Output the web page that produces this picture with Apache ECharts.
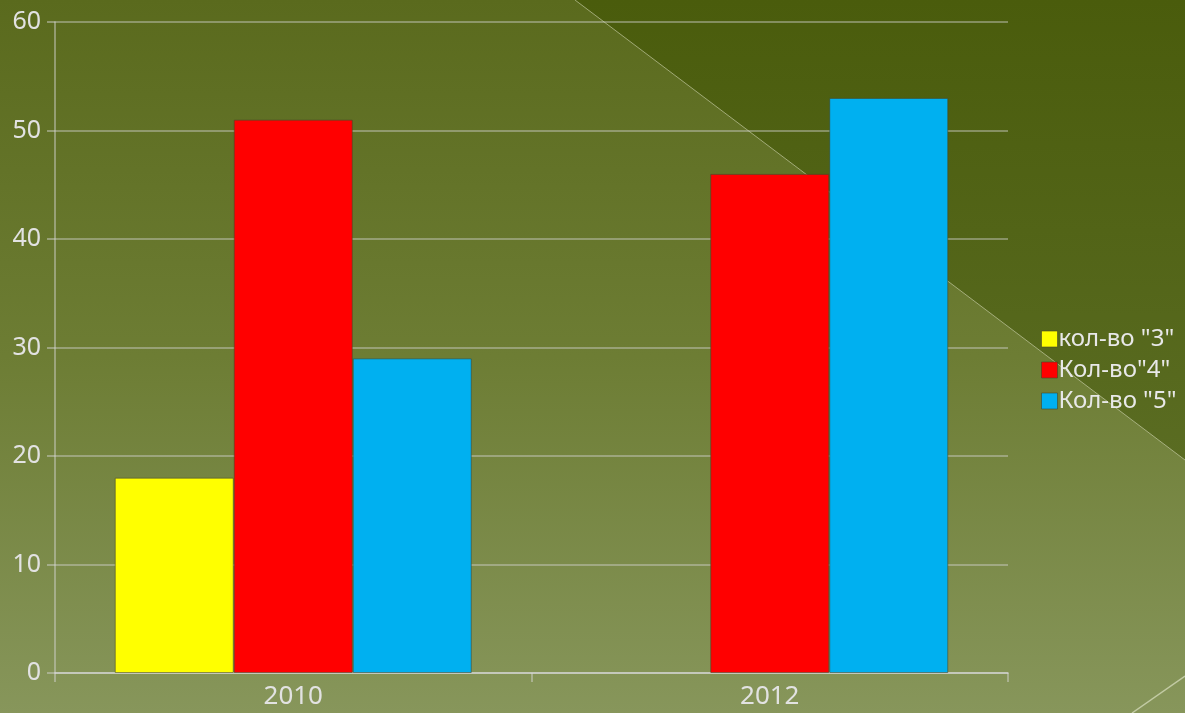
<!DOCTYPE html>
<html>
<head>
<meta charset="utf-8">
<script src="https://cdn.jsdelivr.net/npm/echarts@6/dist/echarts.min.js"></script>
<style>
  html, body { margin: 0; padding: 0; }
  #chart { width: 1185px; height: 713px; }
</style>
</head>
<body>
<div id="chart"></div>
<script>
const years = ['2010', '2012']
const seriesNames = ['кол-во "3"', 'Кол-во"4"', 'Кол-во "5"']
const count3 = [18, null]
const count4 = [51, 46]
const count5 = [29, 53]
const barColors = ['#ffff00', '#ff0000', '#00b0f0']

const chart = echarts.init(document.getElementById('chart'))

const barStyle = (color) => ({
  color: color,
  borderColor: 'rgba(70,70,40,0.55)',
  borderWidth: 1
})

const option = {
  backgroundColor: new echarts.graphic.LinearGradient(0, 0, 0, 1, [
    { offset: 0, color: '#5a6a1d' },
    { offset: 0.5, color: '#6d7d34' },
    { offset: 1, color: '#87965b' }
  ]),
  textStyle: { fontFamily: 'Noto Sans' },
  graphic: [
    {
      type: 'polygon',
      z: -10,
      silent: true,
      shape: { points: [[575, 0], [1185, 0], [1185, 460]] },
      style: {
        fill: new echarts.graphic.LinearGradient(0, 0, 0, 1, [
          { offset: 0, color: '#4a5c0c' },
          { offset: 1, color: '#5a6c22' }
        ])
      }
    },
    {
      type: 'line',
      z: -9,
      silent: true,
      shape: { x1: 575, y1: 0, x2: 1185, y2: 460 },
      style: { stroke: 'rgba(210,215,180,0.6)', lineWidth: 1 }
    },
    {
      type: 'line',
      z: -9,
      silent: true,
      shape: { x1: 1132, y1: 713, x2: 1185, y2: 676 },
      style: { stroke: 'rgba(220,225,195,0.7)', lineWidth: 1.5 }
    }
  ],
  legend: {
    orient: 'vertical',
    left: 1036,
    top: 322,
    itemWidth: 16,
    itemHeight: 16,
    itemGap: 7,
    icon: 'rect',
    data: seriesNames,
    itemStyle: { borderColor: 'rgba(70,70,40,0.6)', borderWidth: 1 },
    textStyle: { color: '#e8e8e8', fontSize: 24, padding: [0, 0, 0, -4] }
  },
  grid: {
    left: 55,
    right: 177,
    top: 22,
    bottom: 40,
    containLabel: false
  },
  xAxis: {
    type: 'category',
    data: years,
    axisLine: { lineStyle: { color: 'rgba(215,215,215,0.85)', width: 1.5 } },
    axisTick: { show: true, length: 9, lineStyle: { color: 'rgba(215,215,215,0.6)', width: 1.5 } },
    axisLabel: { color: '#e2e2e2', fontSize: 26, margin: 11 }
  },
  yAxis: {
    type: 'value',
    min: 0,
    max: 60,
    interval: 10,
    axisLine: { show: true, lineStyle: { color: 'rgba(215,215,215,0.6)', width: 1.5 } },
    axisTick: { show: true, length: 8, lineStyle: { color: 'rgba(215,215,215,0.6)', width: 1.5 } },
    splitLine: { show: true, lineStyle: { color: 'rgba(215,215,215,0.55)', width: 1.5 } },
    axisLabel: { color: '#e2e2e2', fontSize: 25, margin: 14 }
  },
  series: [
    {
      name: seriesNames[0],
      type: 'bar',
      barWidth: 119,
      barGap: '0%',
      itemStyle: barStyle(barColors[0]),
      data: count3
    },
    {
      name: seriesNames[1],
      type: 'bar',
      barWidth: 119,
      barGap: '0%',
      itemStyle: barStyle(barColors[1]),
      data: count4
    },
    {
      name: seriesNames[2],
      type: 'bar',
      barWidth: 119,
      barGap: '0%',
      itemStyle: barStyle(barColors[2]),
      data: count5
    }
  ]
}

chart.setOption(option)
</script>
</body>
</html>
